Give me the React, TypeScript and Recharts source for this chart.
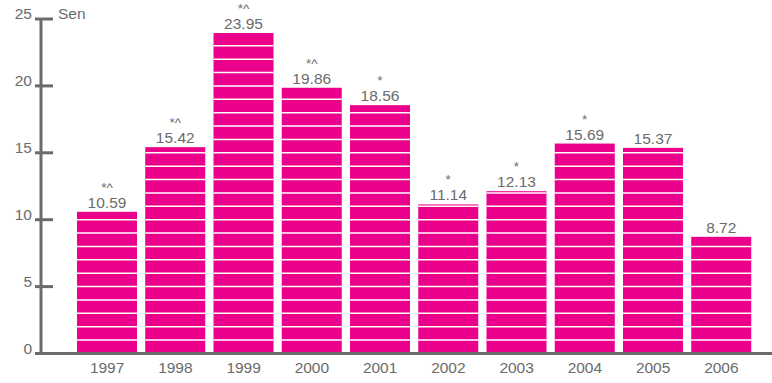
import { BarChart, Bar, XAxis, YAxis, LabelList } from "recharts";

const years = ["1997", "1998", "1999", "2000", "2001", "2002", "2003", "2004", "2005", "2006"];
const values = [10.59, 15.42, 23.95, 19.86, 18.56, 11.14, 12.13, 15.69, 15.37, 8.72];
const notes = ["*^", "*^", "*^", "*^", "*", "*", "*", "*", "", ""];
const yTicks = [0, 5, 10, 15, 20, 25];

const data = years.map((year, i) => ({ year, value: values[i], note: notes[i] }));

const MAGENTA = "#ea008a";
const GREY = "#6b6b6b";
const FONT = "'Liberation Sans', Arial, Helvetica, sans-serif";

// magenta bar cut by thin white lines at every whole unit
function StripedBar(props: any) {
  const { x, y, width, height, payload } = props;
  const v = payload.value;
  const perUnit = height / v;
  const lines = [];
  for (let k = 1; k <= Math.floor(v); k++) {
    const ly = y + height - k * perUnit;
    lines.push(
      <line key={k} x1={x} x2={x + width} y1={ly} y2={ly} stroke="#fff" strokeWidth={1.5} />
    );
  }
  return (
    <g>
      <rect x={x} y={y} width={width} height={height} fill={MAGENTA} />
      {lines}
    </g>
  );
}

function YTick(props: any) {
  const { x, y, payload } = props;
  return (
    <g>
      <line x1={x - 6} x2={x + 12} y1={y} y2={y} stroke={GREY} strokeWidth={3} />
      <text x={x - 9} y={y} textAnchor="end" fill={GREY} fontSize={15.5} fontFamily={FONT}>
        {payload.value}
      </text>
    </g>
  );
}

function TopLabel(props: any) {
  const { x, y, width, index } = props;
  const cx = x + width / 2;
  return (
    <g fontFamily={FONT} textAnchor="middle" fill={GREY}>
      <text x={cx} y={y - 20} fontSize={13.5}>{notes[index]}</text>
      <text x={cx} y={y - 4} fontSize={15.5}>{values[index].toFixed(2)}</text>
    </g>
  );
}

export default function App() {
  return (
    <div style={{ position: "absolute", left: 0, top: 0, background: "#fff" }}>
      <BarChart
        width={772}
        height={383}
        data={data}
        margin={{ top: 19, right: 0, left: 0, bottom: 0 }}
        barSize={60}
      >
        <XAxis
          dataKey="year"
          height={29.5}
          padding={{ left: 32, right: 16.5 }}
          tickLine={false}
          tickSize={0}
          tickMargin={8.5}
          axisLine={{ stroke: GREY, strokeWidth: 3 }}
          tick={{ fill: GREY, fontSize: 15.5, fontFamily: FONT }}
          interval={0}
        />
        <YAxis
          width={41}
          domain={[0, 25]}
          ticks={yTicks}
          tickLine={false}
          tickSize={0}
          tickMargin={0}
          axisLine={{ stroke: GREY, strokeWidth: 3 }}
          tick={<YTick />}
          label={{
            content: (p: any) => (
              <text
                x={p.viewBox.x + p.viewBox.width + 17}
                y={p.viewBox.y}
                fill={GREY}
                fontSize={15.5}
                fontFamily={FONT}
              >
                Sen
              </text>
            ),
          }}
        />
        <Bar dataKey="value" shape={<StripedBar />} isAnimationActive={false}>
          <LabelList dataKey="value" content={<TopLabel />} />
        </Bar>
      </BarChart>
    </div>
  );
}
